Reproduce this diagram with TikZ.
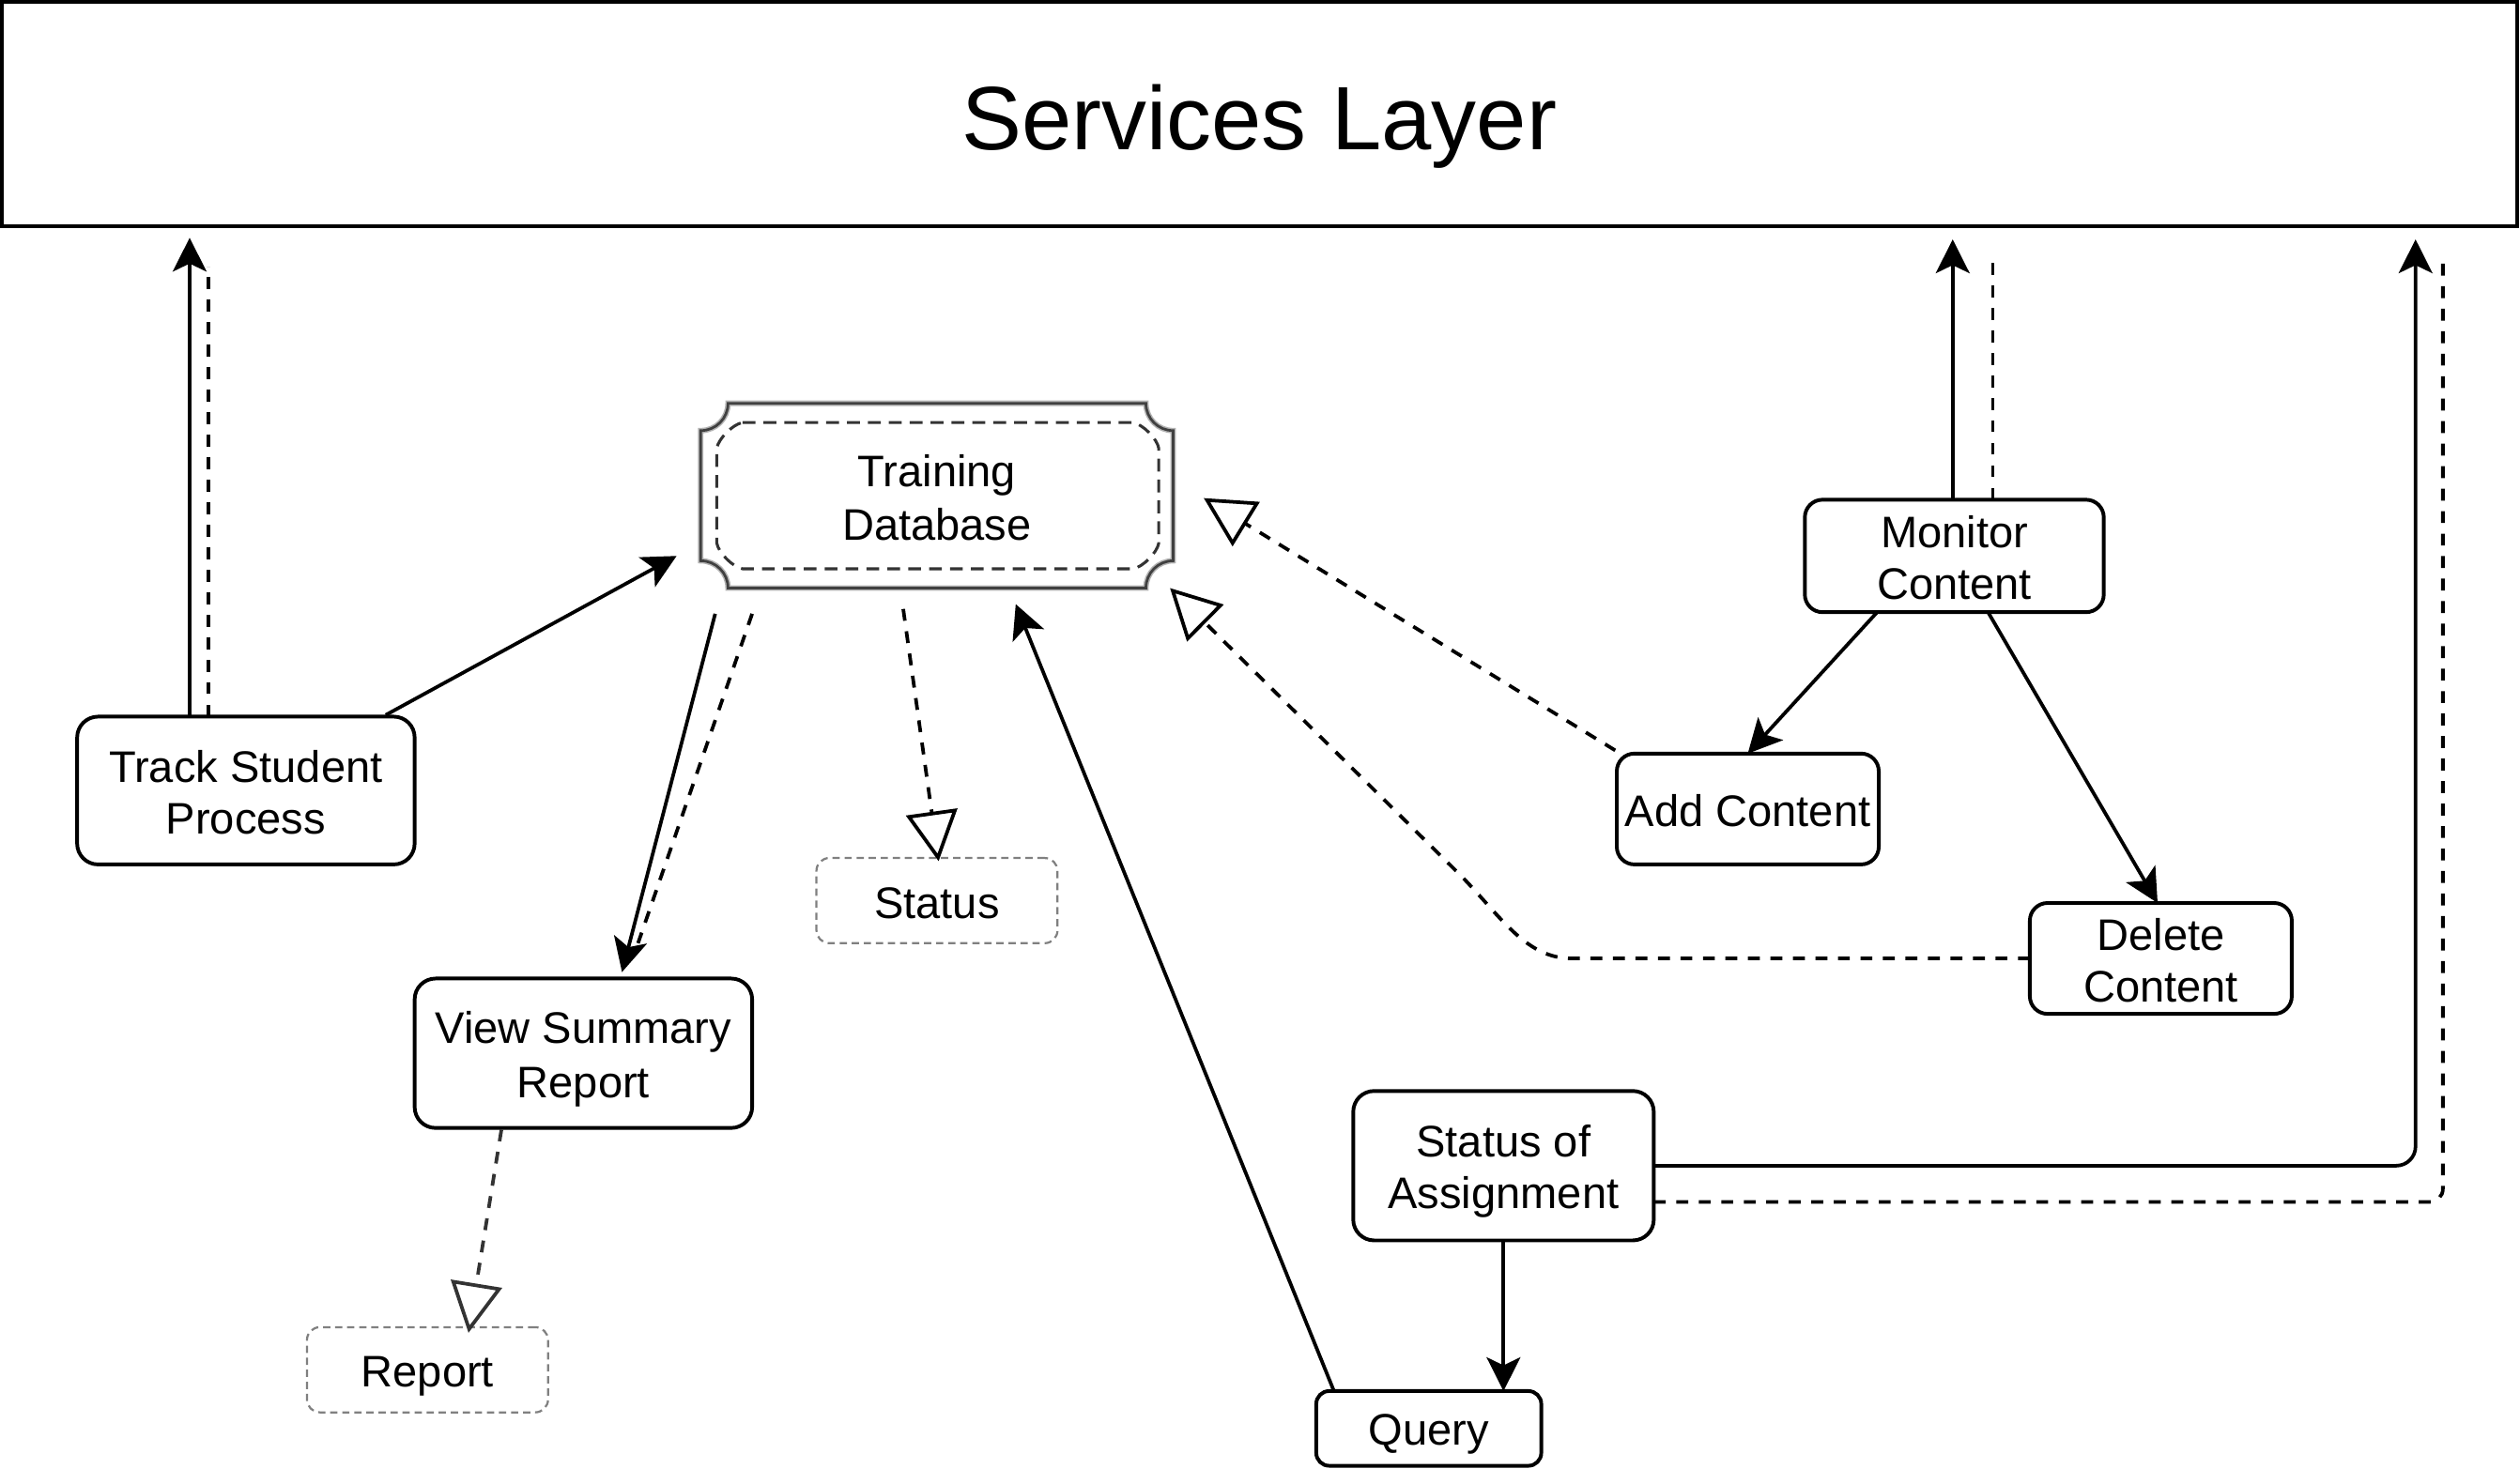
\documentclass[tikz,border=0pt]{standalone}
\usepackage{fontspec}
\setmainfont{Liberation Sans}
\usetikzlibrary{arrows.meta,calc}
\newcommand{\lstrut}{\rule[-5pt]{0pt}{32pt}}
\begin{document}
\begin{tikzpicture}[x=1pt,y=-1pt,
  txt/.style={inner sep=0pt, outer sep=0pt, align=center, font=\fontsize{27.5}{32}\selectfont},
  box/.style={txt, draw, line width=2.3pt},
  ghost/.style={txt, draw={rgb,255:red,128;green,128;blue,128}, line width=1.3pt, dash pattern=on 4.5pt off 3pt, rounded corners=8pt},
  conn/.style={line width=2.2pt, black},
  conna/.style={conn, -{Stealth[length=21pt,width=21pt,inset=5pt]}},
  dconn/.style={conn, dash pattern=on 7.4pt off 6.6pt},
  dconnt/.style={dconn, -{Triangle[open,length=31pt,width=32pt]}}
]
\useasboundingbox (0,0) rectangle (1568,913.7);

% nodes
\node[box, minimum width=1565pt, minimum height=140pt, font=\fontsize{56}{64}\selectfont, text height=52pt, text depth=8pt] (services) at (783.5,71) {Services Layer};
\node[txt, minimum width=294pt, minimum height=115pt] (db) at (583,308.5) {\lstrut Training\\\lstrut Database};
\node[box, minimum width=210pt, minimum height=92pt, rounded corners=13pt] (track) at (153,492) {\lstrut Track Student\\\lstrut Process};
\node[box, minimum width=210pt, minimum height=93pt, rounded corners=13pt] (view) at (363,655.5) {\lstrut View Summary\\\lstrut Report};
\node[ghost, minimum width=150pt, minimum height=53pt] (status) at (583,560.5) {\lstrut Status};
\node[ghost, minimum width=150pt, minimum height=53pt] (report) at (266,852.5) {\lstrut Report};
\node[box, minimum width=186pt, minimum height=70pt, rounded corners=11pt] (monitor) at (1216,346) {\lstrut Monitor\\\lstrut Content};
\node[box, minimum width=163pt, minimum height=69pt, rounded corners=11pt] (add) at (1087.5,503.5) {\lstrut Add Content};
\node[box, minimum width=163pt, minimum height=69pt, rounded corners=11pt] (delete) at (1344.5,596.5) {\lstrut Delete\\\lstrut Content};
\node[box, minimum width=187pt, minimum height=93pt, rounded corners=13pt] (soa) at (935.5,725.5) {\lstrut Status of\\\lstrut Assignment};
\node[box, minimum width=140pt, minimum height=46.5pt, rounded corners=8pt] (query) at (889,889) {\lstrut Query};

% training database outline
\begin{scope}[shift={(db.north west)}]
  \draw[line width=3.4pt, black!30, postaction={draw, line width=1.6pt, black!75}]
    (17,0) -- (277,0) .. controls (277,9.4) and (284.6,17) .. (294,17)
    -- (294,98) .. controls (284.6,98) and (277,105.6) .. (277,115)
    -- (17,115) .. controls (17,105.6) and (9.4,98) .. (0,98)
    -- (0,17) .. controls (9.4,17) and (17,9.4) .. (17,0) -- cycle;
  \draw[line width=1.8pt, black!80, dash pattern=on 8pt off 5pt]
    (26,12) -- (269,12) .. controls (275,13) and (284,22) .. (285,28)
    -- (285,87) .. controls (284,93) and (275,102) .. (269,103)
    -- (26,103) .. controls (20,102) and (11,93) .. (10,87)
    -- (10,28) .. controls (11,22) and (20,13) .. (26,12) -- cycle;
\end{scope}

% connectors
\draw[conna] ($(track.north)+(-35,0)$) -- ($(services.south west)+(117,7)$);
\draw[dconn] ($(track.north)+(-23.5,0)$) -- ($(services.south west)+(128.5,25)$);
\draw[conna] ($(track.north)+(87,-1)$) -- ($(db.south west)+(-15,-20)$);
\draw[conna] ($(db.south west)+(9,16)$) -- ($(view.north)+(24,-4)$);
\draw[dconn] ($(db.south west)+(32,16)$) -- ($(view.north)+(34,-22)$);
\draw[dconnt] ($(db.south)+(-21,13)$) -- ($(status.north)+(1,2)$);
\draw[dconnt, black!80] ($(view.south)+(-51,1)$) -- ($(report.north)+(25.5,3.5)$);
\draw[conna] ($(query.north west)+(11,0)$) -- ($(db.south)+(49,10)$);
\draw[conna] ($(monitor.north)+(-1,0)$) -- ($(services.south west)+(1214,8)$);
\draw[dconn] ($(monitor.north)+(24,0)$) -- ($(services.south west)+(1239,22)$);
\draw[dconnt] ($(add.north west)+(-1,-2)$) -- ($(db.north east)+(19,59)$);
\draw[dconnt] (delete.west) -- ($(delete.west)+(-285,0)$)
  .. controls ($(delete.west)+(-313,0)$) and ($(db.south east)+(205,206)$) .. ($(db.south east)+(180,180)$)
  -- ($(db.south east)+(-2,0)$);
\draw[conna] ($(monitor.south)+(-48,0)$) -- (add.north);
\draw[conna] ($(monitor.south)+(21,0)$) -- ($(delete.north)+(-2,0)$);
\draw[conna, rounded corners=12pt] (soa.east) -| ($(services.south west)+(1502,8)$);
\draw[dconn, rounded corners=8pt] ($(soa.east)+(0,22.5)$) -| ($(services.south west)+(1519,22)$);
\draw[conna] (soa.south) -- (soa.south |- query.north);
\end{tikzpicture}
\end{document}
